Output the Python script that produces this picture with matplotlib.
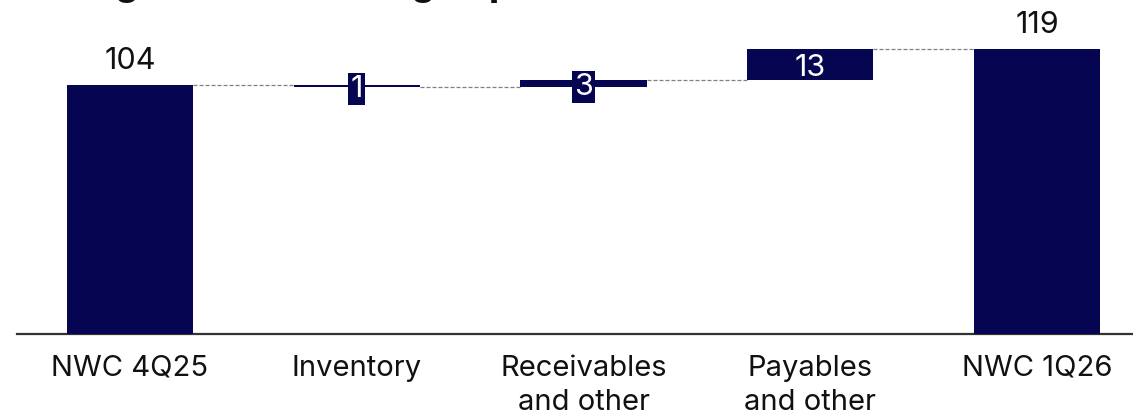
import matplotlib
matplotlib.use("Agg")
import matplotlib.pyplot as plt

plt.rcParams["font.family"] = ["Inter", "DejaVu Sans"]

# Net working capital bridge (EURm)
title = "Change in net working capital (EURm)"
categories = ["NWC 4Q25", "Inventory", "Receivables\nand other", "Payables\nand other", "NWC 1Q26"]
opening_value = 104
changes = [-1, 3, 13]
closing_value = 119

NAVY = "#050552"
W, H = 1133, 418
PX_PER_UNIT = 2.394

fig = plt.figure(figsize=(W / 100, H / 100), dpi=100)
ax = fig.add_axes([17 / W, 84 / H, 1 - 17 / W, 334 / H])

bar_w = 0.556
n = len(categories)
xs = list(range(n))

# totals
ax.bar(xs[0], opening_value, width=bar_w, color=NAVY, zorder=3)
ax.bar(xs[-1], closing_value, width=bar_w, color=NAVY, zorder=3)

# floating changes
levels = [opening_value]
for i, c in enumerate(changes):
    prev = levels[-1]
    new = prev + c
    ax.bar(xs[i + 1], abs(c), bottom=min(prev, new), width=bar_w, color=NAVY, zorder=3)
    levels.append(new)

# connectors between consecutive bars
for i, lvl in enumerate(levels):
    ax.plot([xs[i] + bar_w / 2, xs[i + 1] - bar_w / 2], [lvl, lvl],
            color="#808080", lw=0.9, dashes=(3.2, 1.6), zorder=2)

VAL_FS = 22

# labels on totals
for x, v in [(xs[0], opening_value), (xs[-1], closing_value)]:
    ax.annotate(f"{v:g}", (x, v), xytext=(0, 7), textcoords="offset points",
                ha="center", va="bottom", fontsize=VAL_FS, color="#111111")

# labels on changes; thin bars get a backing box so the number stays legible
for i, c in enumerate(changes):
    prev = levels[i]
    mid = prev + c / 2
    box = None
    if abs(c) * PX_PER_UNIT < 30:
        box = dict(boxstyle="square,pad=0.07", fc=NAVY, ec="none")
    ax.annotate(f"{abs(c):g}", (xs[i + 1], mid),
                xytext=(0, -0.727 * VAL_FS / 2), textcoords="offset points",
                ha="center", va="baseline", fontsize=VAL_FS, color="white",
                zorder=5, bbox=box)

ax.set_xlim(-0.498, n - 1 + 0.423)
ax.set_ylim(0, 334 / PX_PER_UNIT)
ax.set_xticks(xs)
ax.set_xticklabels(categories, fontsize=21, linespacing=1.36, color="#111111")
ax.tick_params(axis="x", length=0, pad=15)
ax.set_yticks([])
for s in ["top", "right", "left"]:
    ax.spines[s].set_visible(False)
ax.spines["bottom"].set_color("#333333")
ax.spines["bottom"].set_linewidth(1.6)
ax.patch.set_alpha(0)

fig.text(17 / W, 1 + 5 / H, title, ha="left", va="baseline", fontsize=27.5,
         fontweight="bold", color="#111111")

fig.savefig("out.png", dpi=100)
